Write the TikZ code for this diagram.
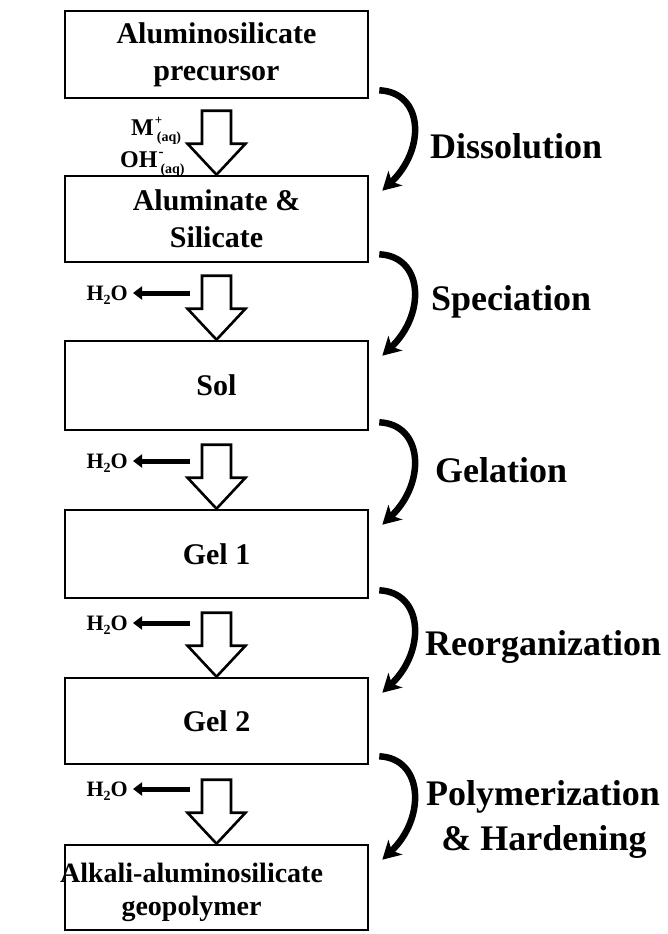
\documentclass[tikz,border=0pt]{standalone}
\usepackage{fontspec}
\setmainfont{Liberation Serif}
\usetikzlibrary{arrows.meta,calc}
\begin{document}
\begin{tikzpicture}[x=1pt,y=1pt,
  box/.style={draw, line width=2.6pt, minimum width=303pt, inner sep=0pt, align=center,
    font=\fontsize{30}{37}\selectfont\bfseries},
  stage/.style={font=\fontsize{36}{36}\selectfont\bfseries, inner sep=0pt, anchor=base west},
  hollowshape/.style={draw, line width=2.6pt, fill=white, line join=miter},
  curvearrow/.style={line width=6.5pt, -{Stealth[length=18pt,width=20pt,inset=5pt]}},
  waterarrow/.style={line width=5pt, -{Triangle[length=9pt,width=13pt]}},
  chem/.style={font=\fontsize{22}{22}\selectfont\bfseries, inner sep=0pt},
  ion/.style={font=\fontsize{24}{24}\selectfont\bfseries, inner sep=0pt, anchor=base west},
  pics/hollowdown/.style={code={
    \draw[hollowshape] (-14.5,64) -- (14.5,64) -- (14.5,31) -- (29,31) -- (0,0)
      -- (-29,31) -- (-14.5,31) -- cycle;}}
]
\useasboundingbox (0,0) rectangle (668,-934);

% boxes
\node[box, minimum height=87pt] (b1) at (216.5,-54.5) {Aluminosilicate\\precursor};
\node[box, minimum height=86pt] (b2) at (216.5,-219) {Aluminate \&\\Silicate};
\node[box, minimum height=89pt] (b3) at (216.5,-385.5) {Sol};
\node[box, minimum height=88pt] (b4) at (216.5,-554) {Gel 1};
\node[box, minimum height=86pt] (b5) at (216.5,-721) {Gel 2};
\node[box, minimum height=85pt] (b6) at (216.5,-887.5) {};
\node[font=\fontsize{28}{33}\selectfont\bfseries, align=center, inner sep=0pt] (b6t)
  at (191.5,-892) {Alkali-aluminosilicate\\geopolymer};

% hollow arrows
\pic at (b2.north) {hollowdown};
\pic at (b3.north) {hollowdown};
\pic at (b4.north) {hollowdown};
\pic at (b5.north) {hollowdown};
\pic at (b6.north) {hollowdown};

% ions
\node[ion] (m) at (131,-135) {M\rlap{\hspace{1pt}\raisebox{11pt}{\fontsize{13}{13}\selectfont +}}\hspace{3pt}\raisebox{-6pt}{\fontsize{14}{14}\selectfont (aq)}};
\node[ion] (oh) at (120,-167) {OH\rlap{\hspace{1pt}\raisebox{11pt}{\fontsize{15}{15}\selectfont -}}\hspace{3pt}\raisebox{-6pt}{\fontsize{14}{14}\selectfont (aq)}};

% water
\node[chem, anchor=base east] (h2) at (128,-300) {H\raisebox{-4pt}{\fontsize{14}{14}\selectfont 2}O};
\node[chem, anchor=base east] (h3) at (128,-468) {H\raisebox{-4pt}{\fontsize{14}{14}\selectfont 2}O};
\node[chem, anchor=base east] (h4) at (128,-630) {H\raisebox{-4pt}{\fontsize{14}{14}\selectfont 2}O};
\node[chem, anchor=base east] (h5) at (128,-796) {H\raisebox{-4pt}{\fontsize{14}{14}\selectfont 2}O};
\coordinate (w2) at (190,-293);
\coordinate (w3) at (190,-461);
\coordinate (w4) at (190,-623);
\coordinate (w5) at (190,-789);
\draw[waterarrow, shorten >=5pt] (w2) -- (w2 -| h2.east);
\draw[waterarrow, shorten >=5pt] (w3) -- (w3 -| h3.east);
\draw[waterarrow, shorten >=5pt] (w4) -- (w4 -| h4.east);
\draw[waterarrow, shorten >=5pt] (w5) -- (w5 -| h5.east);

% curved arrows
\draw[curvearrow] ($(b1.south east)+(10,9)$) .. controls +(44,-2) and +(44,42) .. ($(b2.north east)+(13,-16)$);
\draw[curvearrow] ($(b2.south east)+(10,9)$) .. controls +(44,-2) and +(44,42) .. ($(b3.north east)+(13,-16)$);
\draw[curvearrow] ($(b3.south east)+(10,9)$) .. controls +(44,-2) and +(44,42) .. ($(b4.north east)+(13,-16)$);
\draw[curvearrow] ($(b4.south east)+(10,9)$) .. controls +(44,-2) and +(44,42) .. ($(b5.north east)+(13,-16)$);
\draw[curvearrow] ($(b5.south east)+(10,9)$) .. controls +(44,-2) and +(44,42) .. ($(b6.north east)+(13,-16)$);

% stage labels
\node[stage] (l1) at (430,-158) {Dissolution};
\node[stage] (l2) at (431,-310) {Speciation};
\node[stage] (l3) at (435,-482) {Gelation};
\node[stage] (l4) at (425,-655) {Reorganization};
\node[stage, anchor=base] (l5) at (543,-805) {Polymerization};
\node[stage, anchor=base] (l6) at (544,-850) {\& Hardening};
\end{tikzpicture}
\end{document}
